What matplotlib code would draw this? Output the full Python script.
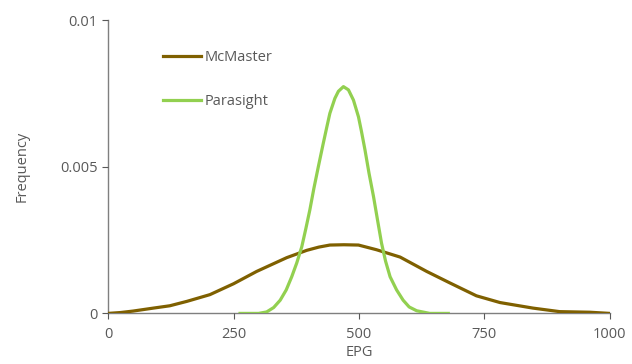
import matplotlib
matplotlib.use("Agg")
import matplotlib.pyplot as plt

# EPG values and frequencies
mcmaster_x = [0, 25, 50, 90, 123, 157, 203, 250, 296, 356, 396, 420, 442, 470, 499, 535, 582, 635, 681, 734, 781, 847, 900, 960, 1000]
mcmaster_y = [0.0, 0.00003, 0.00008, 0.00018, 0.00026, 0.00041, 0.00064, 0.00101, 0.00143, 0.0019, 0.00215, 0.00226, 0.00233, 0.00234, 0.00233, 0.00217, 0.00192, 0.00143, 0.00104, 0.0006, 0.00037, 0.00018, 0.00006, 0.00004, 0.0]

parasight_x = [263, 300, 316, 330, 343, 355, 366, 376, 386, 394, 402, 410, 419, 428, 436, 442, 452, 459, 469, 479, 489, 499, 505, 512, 520, 529, 537, 545, 553, 562, 575, 588, 600, 615, 641, 678]
parasight_y = [0.0, 0.0, 0.00005, 0.0002, 0.00045, 0.0008, 0.00125, 0.00172, 0.00227, 0.00288, 0.00352, 0.00425, 0.005, 0.00573, 0.00636, 0.00682, 0.00733, 0.00757, 0.00773, 0.00762, 0.00727, 0.0067, 0.0062, 0.00557, 0.00478, 0.00398, 0.00318, 0.00239, 0.00178, 0.00125, 0.0008, 0.00045, 0.00022, 0.00009, 0.0, 0.0]

x_ticks = [0, 250, 500, 750, 1000]
y_ticks = [0, 0.005, 0.01]
y_tick_labels = ["0", "0.005", "0.01"]

grey = "#595959"
plt.rcParams["font.family"] = ["Open Sans", "DejaVu Sans"]
plt.rcParams["font.size"] = 10.5

fig = plt.figure(figsize=(6.32, 3.64), dpi=100)
ax = fig.add_axes([0.171, 0.139, 0.794, 0.806])

ax.plot(mcmaster_x, mcmaster_y, color="#7F6000", lw=2.3, label="McMaster", solid_joinstyle="round")
ax.plot(parasight_x, parasight_y, color="#92D050", lw=2.3, label="Parasight", solid_joinstyle="round")

ax.set_xlim(0, 1000)
ax.set_ylim(0, 0.01)
ax.set_xticks(x_ticks)
ax.set_yticks(y_ticks)
ax.set_yticklabels(y_tick_labels)
ax.tick_params(colors=grey, labelsize=10.5, length=4, width=0.8)
ax.tick_params(axis="x", pad=6)
for s in ["top", "right"]:
    ax.spines[s].set_visible(False)
for s in ["left", "bottom"]:
    ax.spines[s].set_color("#7f7f7f")
    ax.spines[s].set_linewidth(1.0)
    ax.spines[s].set_zorder(0.5)

ax.set_xlabel("EPG", color=grey, fontsize=10.5, labelpad=2)
ax.set_ylabel("Frequency", color=grey, fontsize=10.5, labelpad=22)

leg = ax.legend(loc="upper left", bbox_to_anchor=(0.084, 0.943), frameon=False,
                handlelength=2.6, handletextpad=0.2, labelspacing=2.0)
for t in leg.get_texts():
    t.set_color(grey)

fig.savefig("out.png", dpi=100)
